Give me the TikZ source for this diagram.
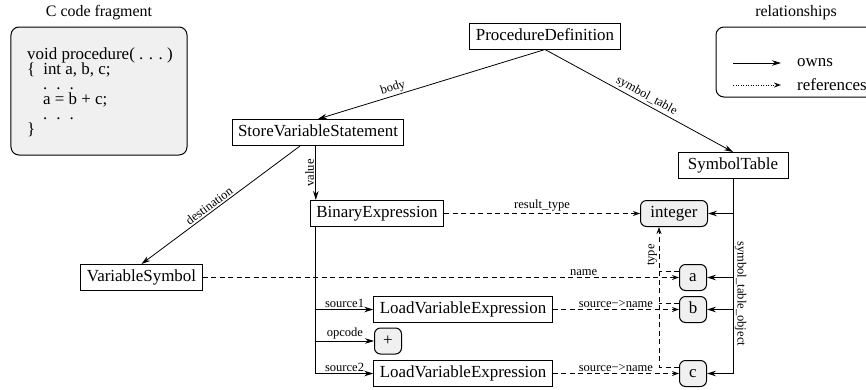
\documentclass[tikz,border=0pt]{standalone}
\usepackage{fontspec}
\setmainfont{Liberation Serif}
\usetikzlibrary{arrows.meta}
\definecolor{valfill}{gray}{0.94}
\setlength{\lineskiplimit}{-20pt}

\begin{document}
\begin{tikzpicture}[x=1bp, y=-1bp,
    cls/.style ={draw, line width=1bp, inner xsep=6bp, inner ysep=0pt, text height=12bp, text depth=4bp,
                 minimum height=26bp, font=\fontsize{17}{19}\selectfont},
    val/.style ={draw, fill=valfill, rounded corners=6bp, line width=1bp, inner sep=0pt, minimum width=27bp,
                 minimum height=26bp, text height=12bp, text depth=4bp, font=\fontsize{17}{19}\selectfont},
    owns/.style ={line width=0.8bp, -{Stealth[length=9bp,width=5.5bp]}},
    refs/.style ={line width=0.8bp, dash pattern=on 5bp off 3.5bp, -{Stealth[open,length=7bp,width=5bp]}},
    lbl/.style ={font=\fontsize{12.6}{14}\selectfont, inner sep=1.5bp},
    ttl/.style ={font=\fontsize{16}{18}\selectfont}]
   \useasboundingbox (0,0) rectangle (866,389);
   \clip (0,0) rectangle (866,389);
   % code fragment
   \node[ttl] (codetitle) at (99,13) {C code fragment};
   \node[draw, fill=valfill, rounded corners=8bp, line width=1bp, minimum width=176bp, minimum height=128bp] (codebox) at (99,91) {};
   \node[anchor=north west, align=left, inner sep=0pt, font=\fontsize{17}{15}\selectfont] (codetext) at (27,48)
     {void procedure(\ .\hspace{5.5bp}.\hspace{5.5bp}.\ )\\
      \{\hspace*{8bp}int a, b, c;\\
      \hspace*{16bp}.\hspace{9bp}.\hspace{9bp}.\\
      \hspace*{16bp}a = b + c;\\
      \hspace*{16bp}.\hspace{9bp}.\hspace{9bp}.\\
      \}};
   % legend
   \node[ttl] (reltitle) at (796,13) {relationships};
   \draw[line width=1bp, rounded corners=8bp] (716,27) rectangle (890,97);
   \coordinate (own0) at (733,63);
   \coordinate (own1) at (781,63);
   \coordinate (ref0) at (733,85);
   \coordinate (ref1) at (781,85);
   \draw[owns] (own0) -- (own1);
   \draw[line width=0.8bp, dash pattern=on 1bp off 1.5bp, -{Stealth[open,length=7bp,width=5bp]}] (ref0) -- (ref1);
   \node[anchor=west, inner sep=0pt, font=\fontsize{17}{19}\selectfont] (ownstxt) at (797,63) {owns};
   \node[anchor=west, inner sep=0pt, font=\fontsize{17}{19}\selectfont] (refstxt) at (797,85) {references};
   % nodes
   \node[cls] (pd)   at (545,36)    {ProcedureDefinition};
   \node[cls] (svs)  at (318,132.5) {StoreVariableStatement};
   \node[cls, minimum width=110bp] (st) at (733,165.5) {SymbolTable};
   \node[cls] (bin)  at (377,213.5) {BinaryExpression};
   \node[cls] (vs)   at (141.5,277.5) {VariableSymbol};
   \node[cls] (lve1) at (463,309.5) {LoadVariableExpression};
   \node[cls] (lve2) at (463,373.5) {LoadVariableExpression};
   \node[val, minimum width=67bp] (integer) at (674,213.5) {integer};
   \node[val] (a) at (693,277.5) {a};
   \node[val] (b) at (693,309.5) {b};
   \node[val] (c) at (693,373.5) {c};
   \node[val] (plus) at (388,341) {+};
   \coordinate (bx) at ([xshift=6bp]bin.south west);
   \coordinate (tx) at ([xshift=-15bp]integer.south);
   % owns
   \draw[owns] (pd.south) -- node[lbl, sloped, above, pos=.66] {body} (svs.north);
   \draw[owns] (pd.south) -- node[lbl, sloped, above, pos=.52] {symbol\_table} (st.north);
   \draw[owns] ([xshift=-18bp]svs.south) -- node[lbl, sloped, above, pos=.55] {destination} (vs.north);
   \draw[owns] (svs.south -| bx) -- node[lbl, rotate=90, anchor=south] {value} (bin.north -| bx);
   \draw[line width=0.8bp] (bx) -- (bx |- lve2.west);
   \draw[owns] (bx |- lve1.west) -- node[lbl, above] {source1} (lve1.west);
   \draw[owns] (bx |- plus.west) -- node[lbl, above] {opcode} (plus.west);
   \draw[owns] (bx |- lve2.west) -- node[lbl, above] {source2} (lve2.west);
   \draw[line width=0.8bp] (st.south) -- node[lbl, rotate=-90, anchor=south, pos=.59] {symbol\_table\_object} (st.south |- c.east);
   \draw[owns] (st.south |- integer.east) -- (integer.east);
   \draw[owns] (st.south |- a.east) -- (a.east);
   \draw[owns] (st.south |- b.east) -- (b.east);
   \draw[owns] (st.south |- c.east) -- (c.east);
   % references
   \draw[refs] (bin.east) -- node[lbl, above] {result\_type} (integer.west);
   \draw[refs] (vs.east) -- node[lbl, above, pos=.8] {name} (a.west);
   \draw[refs] (lve1.east) -- node[lbl, above] {source−>name} (b.west);
   \draw[refs] (lve2.east) -- node[lbl, above] {source−>name} (c.west);
   \draw[refs] (c.155) -| node[lbl, rotate=90, anchor=south, pos=.9] {type} (tx);
   \draw[refs, -] (a.155) -- (a.155 -| tx);
   \draw[refs, -] (b.155) -- (b.155 -| tx);
\end{tikzpicture}
\end{document}
